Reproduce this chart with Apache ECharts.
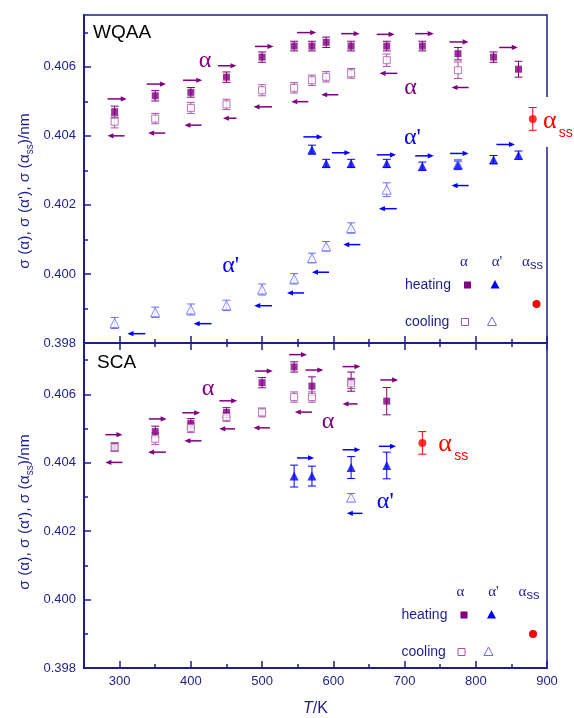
<!DOCTYPE html>
<html><head><meta charset="utf-8">
<script src="https://cdn.jsdelivr.net/npm/echarts@6/dist/echarts.min.js"></script>
<style>html,body{margin:0;padding:0;background:#fff}#c{width:574px;height:718px}</style>
</head><body><div id="c"></div>
<script>
// ---------- axis ticks ----------
const xMajor=[300,400,500,600,700,800,900];
const xMinor=[350,450,550,650,750,850];
const yMajor=[0.398,0.400,0.402,0.404,0.406];
const yMinor=[0.399,0.401,0.403,0.405,0.407];

// ---------- WQAA (top panel) ----------
const wqHeatA_T=[293,350,400,450,500,545,570,590,625,675,725,775,825,860];
const wqHeatA_V=[0.40470,0.40516,0.40526,0.40570,0.40628,0.40660,0.40660,0.40671,0.40660,0.40660,0.40660,0.40638,0.40628,0.40593];
const wqHeatA_E=[0.00016,0.00015,0.00014,0.00015,0.00015,0.00014,0.00014,0.00015,0.00014,0.00014,0.00014,0.00018,0.00015,0.00023];
const wqCoolA_T=[293,350,400,450,500,545,570,590,625,675,775];
const wqCoolA_V=[0.40441,0.40450,0.40481,0.40491,0.40532,0.40539,0.40561,0.40571,0.40581,0.40619,0.40590];
const wqCoolA_E=[0.00018,0.00015,0.00016,0.00015,0.00016,0.00015,0.00015,0.00015,0.00014,0.00018,0.00024];
const wqHeatP_T=[570,590,625,675,725,775,825,860];
const wqHeatP_V=[0.40360,0.40320,0.40320,0.40320,0.40312,0.40315,0.40331,0.40344];
const wqHeatP_E=[0.00013,0.00012,0.00012,0.00012,0.00012,0.00012,0.00012,0.00012];
const wqCoolP_T=[293,350,400,450,500,545,570,590,625,675,775];
const wqCoolP_V=[0.39858,0.39889,0.39897,0.39909,0.39955,0.39986,0.40046,0.40080,0.40133,0.40244,0.40317];
const wqCoolP_E=[0.00016,0.00015,0.00016,0.00015,0.00016,0.00015,0.00014,0.00014,0.00015,0.00020,0.00015];
const wqSS_T=[880], wqSS_V=[0.40449], wqSS_E=[0.00033];
// arrows: [T start, T end, value]
const wqArrowHeatA=[[283,310,0.40507],[338,365,0.40550],[389,416,0.40561],[438,464,0.40603],[490,516,0.40659],[549,576,0.40699],[611,637,0.40696],[661,686,0.40694],[715,741,0.40696],[763,790,0.40672],[833,859,0.40656]];
const wqArrowCoolA=[[307,283,0.40400],[364,340,0.40408],[415,391,0.40431],[464,445,0.40451],[514,488,0.40484],[565,541,0.40499],[607,583,0.40519],[690,665,0.40581],[790,766,0.40540]];
const wqArrowHeatP=[[558,585,0.40397],[598,624,0.40351],[661,688,0.40345],[715,741,0.40342],[764,790,0.40349],[829,855,0.40375]];
const wqArrowCoolP=[[336,311,0.39827],[429,404,0.39856],[514,489,0.39908],[559,535,0.39945],[594,570,0.40005],[638,614,0.40085],[689,664,0.40189],[790,766,0.40256]];
// labels: [T, value, text, colour key]
const wqLabels=[[420,0.40618,'α','p'],[708.5,0.40539,'α','p'],[711,0.40395,"α'",'b'],[456,0.40025,"α'",'b'],[904,0.40443,'αss','r']];

// ---------- SCA (bottom panel) ----------
const scHeatA_T=[293,350,400,450,500,545,570,625,675];
const scHeatA_V=[0.40447,0.40491,0.40515,0.40547,0.40634,0.40680,0.40624,0.40637,0.40580];
const scHeatA_E=[0.00011,0.00016,0.00014,0.00014,0.00015,0.00015,0.00027,0.00028,0.00040];
const scCoolA_T=[293,350,400,450,500,545,570,625];
const scCoolA_V=[0.40445,0.40470,0.40502,0.40534,0.40547,0.40592,0.40592,0.40632];
const scCoolA_E=[0.00012,0.00017,0.00014,0.00013,0.00013,0.00015,0.00015,0.00015];
const scHeatP_T=[545,570,625,675];
const scHeatP_V=[0.40361,0.40361,0.40386,0.40392];
const scHeatP_E=[0.00032,0.00029,0.00032,0.00039];
const scCoolP_T=[625], scCoolP_V=[0.40298], scCoolP_E=[0.00012];
const scSS_T=[725], scSS_V=[0.40458], scSS_E=[0.00033];
const scArrowHeatA=[[280,304,0.40482],[341,366,0.40528],[388,413,0.40546],[440,465,0.40581],[490,515,0.40668],[538,563,0.40716],[561,586,0.40671],[613,638,0.40681],[666,691,0.40642]];
const scArrowCoolA=[[304,280,0.40401],[365,340,0.40431],[415,391,0.40464],[462,440,0.40499],[511,488,0.40502],[570,546,0.40548],[634,613,0.40572]];
const scArrowHeatP=[[549,573,0.40414],[613,638,0.40438],[664,688,0.40448]];
const scArrowCoolP=[[641,619,0.40252]];
const scLabels=[[424,0.40615,'α','p'],[592.6,0.40520,'α','p'],[757,0.40454,'αss','r'],[673,0.40287,"α'",'b']];

// ---------- styles ----------
const navy='#1e1e8c', purple='#800080', purpleL='#a855a8', blue='#0000ff', blueL='#6b6bff', red='#ff0000';
const sans='Liberation Sans, Arial, sans-serif', serif='Liberation Serif, Times New Roman, serif';
const colMap={p:purple,b:blue,r:red};
const G=[{left:84,top:15,width:463,height:328},{left:84,top:343,width:463,height:328}];

function errSeries(T,V,E,xi,yi,color){
  return {type:'custom',xAxisIndex:xi,yAxisIndex:yi,clip:false,z:2,silent:true,
    data:T.map((t,i)=>[t,V[i],E[i]]),
    renderItem:(p,api)=>{
      const x=api.value(0),y=api.value(1),e=api.value(2);
      const a=api.coord([x,y+e]),b=api.coord([x,y-e]),w=4,st={stroke:color,lineWidth:1};
      return {type:'group',children:[
        {type:'line',shape:{x1:a[0],y1:a[1],x2:b[0],y2:b[1]},style:st},
        {type:'line',shape:{x1:a[0]-w,y1:a[1],x2:a[0]+w,y2:a[1]},style:st},
        {type:'line',shape:{x1:b[0]-w,y1:b[1],x2:b[0]+w,y2:b[1]},style:st}]};
    }};
}
function ptSeries(T,V,xi,yi,symbol,size,color,filled){
  return {type:'scatter',xAxisIndex:xi,yAxisIndex:yi,symbol:symbol,symbolSize:size,z:3,silent:true,
    itemStyle:{color:filled?color:'#fff',borderColor:color,borderWidth:filled?0:1},
    data:T.map((t,i)=>[t,V[i]])};
}
function arrowSeries(A,xi,yi,color){
  return {type:'custom',xAxisIndex:xi,yAxisIndex:yi,clip:false,z:2,silent:true,
    data:A,
    renderItem:(p,api)=>{
      const x0=api.value(0),x1=api.value(1),y=api.value(2);
      const a=api.coord([x0,y]),b=api.coord([x1,y]),d=b[0]>a[0]?1:-1;
      return {type:'group',children:[
        {type:'line',shape:{x1:a[0],y1:a[1],x2:b[0]-d*4,y2:b[1]},style:{stroke:color,lineWidth:1.5}},
        {type:'polygon',shape:{points:[[b[0],b[1]],[b[0]-d*6,b[1]-2.6],[b[0]-d*6,b[1]+2.6]]},style:{fill:color}}]};
    }};
}
function labelSeries(L,xi,yi,bg){
  return {type:'custom',xAxisIndex:xi,yAxisIndex:yi,clip:false,z:4,silent:true,
    data:L.map((l,i)=>[l[0],l[1],i]),
    renderItem:(p,api)=>{
      const c=api.coord([api.value(0),api.value(1)]);
      const l=L[api.value(2)], col=colMap[l[3]];
      if(l[2]==='αss'){
        const ch=[];
        if(bg) ch.push({type:'rect',shape:{x:c[0]-9,y:c[1]-24,width:40,height:50},style:{fill:'#fff'}});
        ch.push({type:'text',x:c[0],y:c[1],style:{text:'α',fill:col,font:'26px '+serif,align:'center',verticalAlign:'middle'}});
        ch.push({type:'text',x:c[0]+9,y:c[1]+12,style:{text:'ss',fill:col,font:'14px '+sans,align:'left',verticalAlign:'middle'}});
        return {type:'group',children:ch};
      }
      return {type:'text',x:c[0],y:c[1],style:{text:l[2],fill:col,font:'24px '+serif,align:'center',verticalAlign:'middle'}};
    }};
}

function xAx(grid,pos,vals,len,line,labels){
  return {type:'value',gridIndex:grid,position:pos,min:250,max:900,
    axisLine:{show:line,onZero:false,lineStyle:{color:navy,width:2}},
    axisTick:{show:true,inside:true,length:len,customValues:vals,lineStyle:{color:navy,width:1.5}},
    axisLabel:{show:labels,customValues:vals,color:navy,fontSize:13,fontFamily:sans,margin:7},
    splitLine:{show:false}};
}
function yAx(grid,vals,len,line,labels){
  return {type:'value',gridIndex:grid,position:'left',min:0.398,max:0.4075,
    axisLine:{show:line,onZero:false,lineStyle:{color:navy,width:2}},
    axisTick:{show:true,inside:true,length:len,customValues:vals,lineStyle:{color:navy,width:1.5}},
    axisLabel:{show:labels,customValues:vals,color:navy,fontSize:13,fontFamily:sans,margin:8,formatter:v=>v.toFixed(3)},
    splitLine:{show:false}};
}

const xAxes=[xAx(0,'bottom',xMajor,7,true,false),xAx(0,'bottom',xMinor,4,false,false),
  xAx(1,'bottom',xMajor,7,true,true),xAx(1,'bottom',xMinor,4,false,false),
  xAx(1,'top',xMajor,7,true,false),xAx(1,'top',xMinor,4,false,false)];
xAxes[2].name='{i|T}/K';
xAxes[2].nameLocation='middle';
xAxes[2].nameGap=33;
xAxes[2].nameTextStyle={color:navy,fontSize:16,fontFamily:sans,rich:{i:{fontStyle:'italic',fontSize:16,color:navy,fontFamily:sans}}};
const yAxes=[yAx(0,yMajor,7,true,true),yAx(0,yMinor,4,false,false),yAx(1,yMajor,7,true,true),yAx(1,yMinor,4,false,false)];

const series=[
  // top
  errSeries(wqHeatA_T,wqHeatA_V,wqHeatA_E,0,0,purple),
  errSeries(wqCoolA_T,wqCoolA_V,wqCoolA_E,0,0,purpleL),
  errSeries(wqHeatP_T,wqHeatP_V,wqHeatP_E,0,0,blue),
  errSeries(wqCoolP_T,wqCoolP_V,wqCoolP_E,0,0,blueL),
  errSeries(wqSS_T,wqSS_V,wqSS_E,0,0,red),
  ptSeries(wqCoolA_T,wqCoolA_V,0,0,'rect',7,purpleL,false),
  ptSeries(wqHeatA_T,wqHeatA_V,0,0,'rect',7,purple,true),
  ptSeries(wqCoolP_T,wqCoolP_V,0,0,'triangle',9,blueL,false),
  ptSeries(wqHeatP_T,wqHeatP_V,0,0,'triangle',9,blue,true),
  ptSeries(wqSS_T,wqSS_V,0,0,'circle',8,red,true),
  arrowSeries(wqArrowHeatA,0,0,purple),arrowSeries(wqArrowCoolA,0,0,purple),
  arrowSeries(wqArrowHeatP,0,0,blue),arrowSeries(wqArrowCoolP,0,0,blue),
  labelSeries(wqLabels,0,0,true),
  // bottom
  errSeries(scHeatA_T,scHeatA_V,scHeatA_E,2,2,purple),
  errSeries(scCoolA_T,scCoolA_V,scCoolA_E,2,2,purpleL),
  errSeries(scHeatP_T,scHeatP_V,scHeatP_E,2,2,blue),
  errSeries(scCoolP_T,scCoolP_V,scCoolP_E,2,2,blueL),
  errSeries(scSS_T,scSS_V,scSS_E,2,2,red),
  ptSeries(scHeatA_T,scHeatA_V,2,2,'rect',7,purple,true),
  ptSeries(scCoolA_T,scCoolA_V,2,2,'rect',7,purpleL,false),
  ptSeries(scHeatP_T,scHeatP_V,2,2,'triangle',9,blue,true),
  ptSeries(scCoolP_T,scCoolP_V,2,2,'triangle',9,blueL,false),
  ptSeries(scSS_T,scSS_V,2,2,'circle',8,red,true),
  arrowSeries(scArrowHeatA,2,2,purple),arrowSeries(scArrowCoolA,2,2,purple),
  arrowSeries(scArrowHeatP,2,2,blue),arrowSeries(scArrowCoolP,2,2,blue),
  labelSeries(scLabels,2,2,false)
];

// ---------- legend tables & titles (graphics) ----------
function txt(x,y,t,font,col,align){return {type:'text',x:x,y:y,z:10,style:{text:t,font:font,fill:col,align:align||'center',verticalAlign:'middle'}};}
function sq(x,y,col,filled){return {type:'rect',z:10,shape:{x:x-3.5,y:y-3.5,width:7,height:7},style:{fill:filled?col:'#fff',stroke:col,lineWidth:filled?0:1}};}
function tri(x,y,col,filled){return {type:'polygon',z:10,shape:{points:[[x,y-4.5],[x-4.5,y+4],[x+4.5,y+4]]},style:{fill:filled?col:'#fff',stroke:col,lineWidth:filled?0:1}};}
function dot(x,y,col){return {type:'circle',z:10,shape:{cx:x,cy:y,r:4},style:{fill:col}};}
function legendBlock(x0,y0){
  return [
    txt(x0+59,y0,'α','15px '+serif,navy),
    txt(x0+92,y0,"α'",'15px '+serif,navy),
    txt(x0+121,y0,'α','15px '+serif,navy),
    txt(x0+125,y0+3,'ss','13px '+sans,navy,'left'),
    txt(x0,y0+23,'heating','14px '+sans,navy,'left'),
    sq(x0+62.5,y0+23,purple,true),
    tri(x0+90,y0+22.5,blue,true),
    dot(x0+131.5,y0+42,red),
    txt(x0,y0+60,'cooling','14px '+sans,navy,'left'),
    sq(x0+60,y0+60,purpleL,false),
    tri(x0+87,y0+59.5,blueL,false)
  ];
}
const yTitleRich={n:{font:'15.5px '+sans,fill:navy},s:{font:'10px '+sans,fill:navy,padding:[10,0,0,0]}};
const yTitle='{n|σ (α), σ (α\'), σ (α}{s|ss}{n|)/nm}';
const graphics=[
  txt(93,33,'WQAA','19px '+sans,'#000','left'),
  txt(97,363,'SCA','19px '+sans,'#000','left'),
  {type:'text',x:25,y:191,rotation:Math.PI/2,z:10,style:{text:yTitle,rich:yTitleRich,align:'center',verticalAlign:'middle'}},
  {type:'text',x:25,y:512,rotation:Math.PI/2,z:10,style:{text:yTitle,rich:yTitleRich,align:'center',verticalAlign:'middle'}}
].concat(legendBlock(405,262)).concat(legendBlock(401.5,592));

const chart=echarts.init(document.getElementById('c'),null,{renderer:'canvas'});
chart.setOption({
  backgroundColor:'#fff',
  animation:false,
  grid:G.map(g=>Object.assign({show:true,borderColor:navy,borderWidth:1.5,backgroundColor:'transparent',containLabel:false},g)),
  xAxis:xAxes,
  yAxis:yAxes,
  series:series,
  graphic:graphics
});
</script></body></html>
